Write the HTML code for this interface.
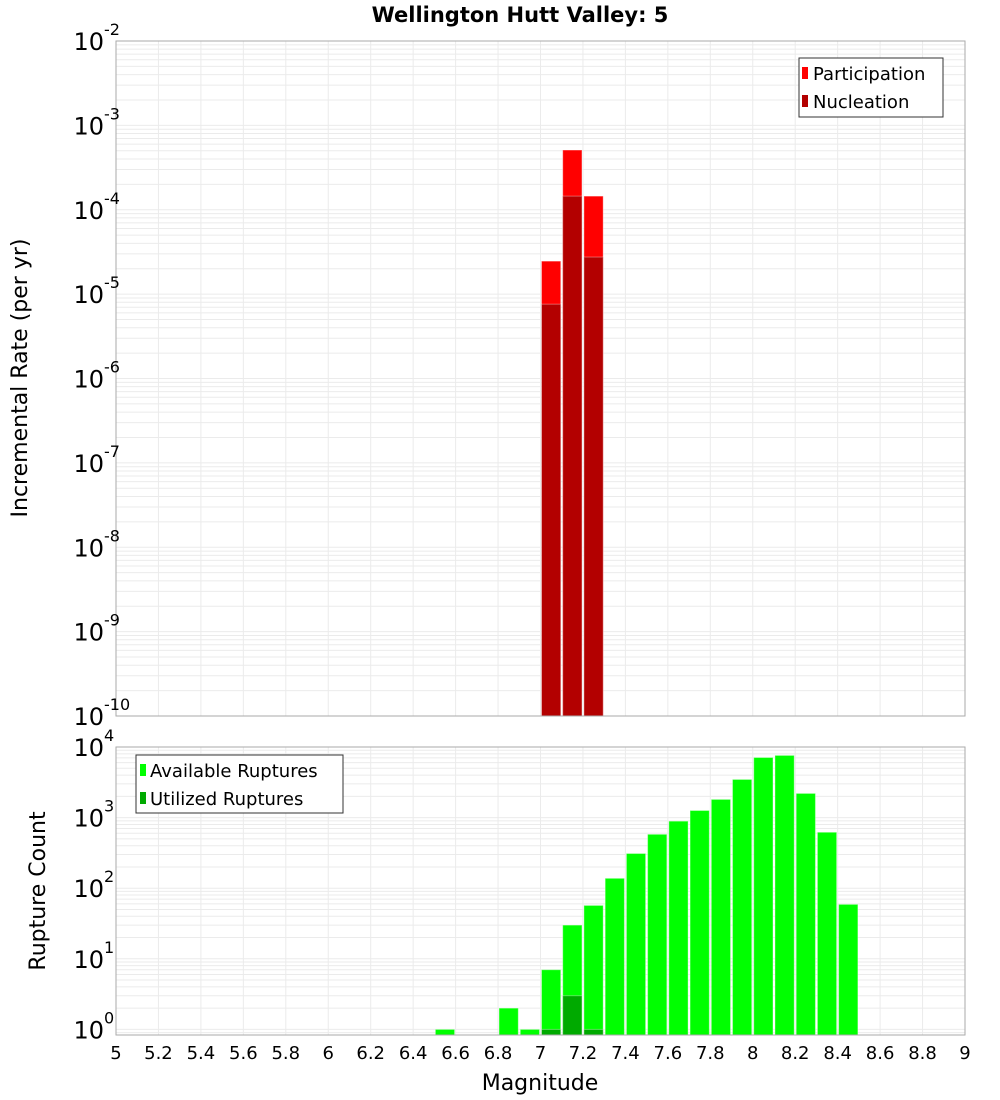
<!DOCTYPE html>
<html><head><meta charset="utf-8"><style>
body{margin:0;background:#fff;}
svg{display:block;font-family:"DejaVu Sans","Liberation Sans",sans-serif;}
</style></head><body>
<svg id="c" width="1000" height="1100"></svg>
<script>
const magBins=[7.0,7.1,7.2];
const participation=[2.46e-5,5.1e-4,1.45e-4];
const nucleation=[7.6e-6,1.45e-4,2.75e-5];
const countBins=[6.5,6.8,6.9,7.0,7.1,7.2,7.3,7.4,7.5,7.6,7.7,7.8,7.9,8.0,8.1,8.2,8.3,8.4];
const available=[1,2,1,7,30,57,138,310,580,890,1260,1810,3470,7100,7600,2200,620,59];
const utilBins=[7.0,7.1,7.2];
const utilized=[1,3,1];
const xTicks=[5,5.2,5.4,5.6,5.8,6,6.2,6.4,6.6,6.8,7,7.2,7.4,7.6,7.8,8,8.2,8.4,8.6,8.8,9];
const topExp=[-10,-9,-8,-7,-6,-5,-4,-3,-2];
const botExp=[0,1,2,3,4];

const NS="http://www.w3.org/2000/svg";
const svg=document.getElementById('c');
function mk(t,a,p){const e=document.createElementNS(NS,t);for(const k in a)e.setAttribute(k,a[k]);(p||svg).appendChild(e);return e;}
const L=116,R=965;
const x=m=>L+(m-5)/4*(R-L);
const T1=41,B1=716;
const y1=v=>B1-(Math.log10(v)+10)/8*(B1-T1);
const T2=747,B2=1035,dec2=70.6;
const y2=v=>T2+(4-Math.log10(v))*dec2;

function grid(top,bot,yf,e0,e1){
  const g=mk('g',{});
  
  
  for(const t of xTicks){mk('line',{x1:x(t),x2:x(t),y1:top,y2:bot,stroke:'#ebebeb'},g);}
  for(let e=e0;e<=e1;e++){for(let k=1;k<10;k++){const v=k*Math.pow(10,e);const yy=yf(v);if(yy<top-0.5||yy>bot+0.5)continue;mk('line',{x1:L,x2:R,y1:yy,y2:yy,stroke:'#ebebeb'},g);}}
}
grid(T1,B1,y1,-10,-3);
grid(T2,B2,y2,-1,3);

function bars(bins,vals,yf,base,fill,name){
  bins.forEach((m,i)=>{
    const yy=yf(vals[i]);
    const r=mk('rect',{x:x(m)+1,y:yy,width:x(m+0.1)-x(m)-2,height:base-yy,fill:fill,stroke:'rgba(255,255,255,0.35)', 'stroke-width':1});
    
    
  });
}
bars(magBins,participation,y1,B1,'#ff0000','participation-bar');
bars(magBins,nucleation,y1,B1,'#b30000','nucleation-bar');
bars(countBins,available,y2,B2,'#00ff00','available-bar');
bars(utilBins,utilized,y2,B2,'#00aa00','utilized-bar');

mk('rect',{x:L,y:T1,width:R-L,height:B1-T1,fill:'none',stroke:'#aaa'});
mk('rect',{x:L,y:T2,width:R-L,height:B2-T2,fill:'none',stroke:'#aaa'});

function ylabels(exps,yf,name){
  exps.forEach(e=>{
    const yy=yf(Math.pow(10,e));
    const t=mk('text',{x:104,y:yy+9,'text-anchor':'end','font-size':24,fill:'#000'});
    
    
    t.textContent='10';
    const s=mk('text',{x:104,y:yy-6,'font-size':16,fill:'#000'});
    
    
    s.textContent=String(e);
  });
}
ylabels(topExp,y1,'top-y');
ylabels(botExp,y2,'bottom-y');

xTicks.forEach(t=>{
  const e=mk('text',{x:x(t),y:1059,'text-anchor':'middle','font-size':18,fill:'#000'});
  
  
  e.textContent=String(t);
});
</script>
<svg width="0" height="0"></svg>
<div style="position:absolute;left:0;top:0;width:1000px;height:1100px;pointer-events:none">
<svg width="1000" height="1100" style="position:absolute;left:0;top:0;font-family:'DejaVu Sans','Liberation Sans',sans-serif">
<text x="520" y="22" text-anchor="middle" font-size="21" font-weight="bold">Wellington Hutt Valley: 5</text>
<text transform="translate(27,378) rotate(-90)" text-anchor="middle" font-size="22">Incremental Rate (per yr)</text>
<text transform="translate(45,891) rotate(-90)" text-anchor="middle" font-size="22">Rupture Count</text>
<text x="540" y="1090" text-anchor="middle" font-size="22">Magnitude</text>
<g>
<rect x="799" y="58" width="144" height="59" fill="#fff" stroke="#333"/>
<rect x="802" y="67" width="6" height="12" fill="#ff0000"/>
<text x="813" y="80" font-size="18">Participation</text>
<rect x="802" y="95" width="6" height="12" fill="#b30000"/>
<text x="813" y="108" font-size="18">Nucleation</text>
</g>
<g>
<rect x="136" y="755" width="207" height="58" fill="#fff" stroke="#333"/>
<rect x="140" y="764" width="6" height="12" fill="#00ff00"/>
<text x="150" y="777" font-size="18">Available Ruptures</text>
<rect x="140" y="792" width="6" height="12" fill="#00aa00"/>
<text x="150" y="805" font-size="18">Utilized Ruptures</text>
</g>
</svg>
</div>
</body></html>
